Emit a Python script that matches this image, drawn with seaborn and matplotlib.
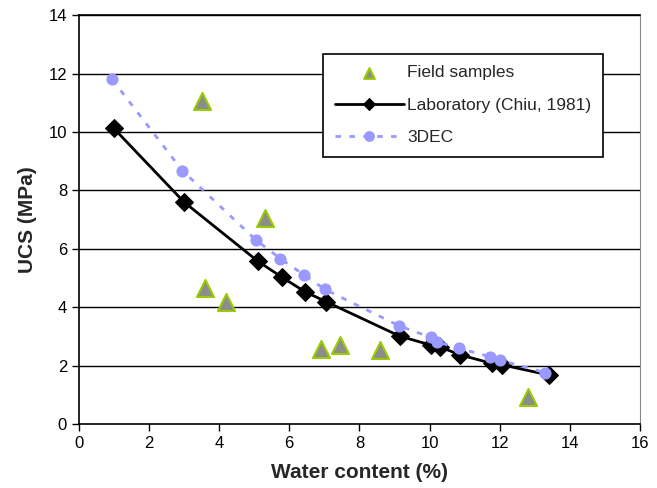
import numpy as np
import pandas as pd
import seaborn as sns
import matplotlib.pyplot as plt

# field samples
field_w = [3.5, 5.3, 3.6, 4.2, 6.9, 7.45, 8.6, 12.8]
field_ucs = [11.05, 7.05, 4.65, 4.18, 2.58, 2.7, 2.52, 0.93]

# laboratory (Chiu, 1981)
lab_w = [1.0, 3.0, 5.1, 5.8, 6.45, 7.05, 9.15, 10.05, 10.3, 10.87, 11.77, 12.06, 13.4]
lab_ucs = [10.12, 7.6, 5.58, 5.02, 4.53, 4.19, 3.01, 2.7, 2.64, 2.37, 2.08, 2.03, 1.68]

# 3DEC
dec_w = [0.95, 2.95, 5.05, 5.75, 6.43, 7.02, 9.14, 10.03, 10.2, 10.85, 11.72, 12.0, 13.3]
dec_ucs = [11.8, 8.68, 6.3, 5.66, 5.1, 4.61, 3.36, 2.97, 2.82, 2.59, 2.31, 2.19, 1.76]

sns.set_style("white")
plt.rcParams['font.family'] = ['Liberation Sans', 'DejaVu Sans']

fig = plt.figure(figsize=(6.57, 4.88), dpi=100)
ax = fig.add_axes([0.120, 0.131, 0.854, 0.838])

for yv in range(2, 15, 2):
    ax.axhline(yv, color='black', lw=1.0, zorder=0)

sns.scatterplot(x=field_w, y=field_ucs, marker='^', s=150, color='#8c8c8c',
                edgecolor='#99cc00', linewidth=1.5, label='Field samples', ax=ax, zorder=3)
sns.lineplot(x=lab_w, y=lab_ucs, sort=False, color='black', lw=2, marker='D',
             markersize=9, markeredgecolor='black', label='Laboratory (Chiu, 1981)', ax=ax, zorder=2)
sns.lineplot(x=dec_w, y=dec_ucs, sort=False, color='#9999ff', lw=2, linestyle=(0, (2, 3)),
             marker='o', markersize=8, markeredgecolor='#9999ff', label='3DEC', ax=ax, zorder=4)

ax.set_xlim(0, 16)
ax.set_ylim(0, 14)
ax.set_xticks(range(0, 17, 2))
ax.set_yticks(range(0, 15, 2))
ax.tick_params(axis='both', direction='out', length=5, width=1, labelsize=12, colors='black',
               bottom=True, left=True)
for s in ['left', 'bottom', 'top']:
    ax.spines[s].set_color('black')
    ax.spines[s].set_linewidth(1.2)
ax.spines['right'].set_color('#888888')

ax.set_xlabel('Water content (%)', fontsize=15, fontweight='bold', labelpad=9)
ax.set_ylabel('UCS (MPa)', fontsize=15, fontweight='bold', labelpad=8)

leg = ax.legend(loc='upper right', bbox_to_anchor=(0.934, 0.905), borderaxespad=0,
                frameon=True, fancybox=False, fontsize=12.5, borderpad=0.65, labelspacing=1.0,
                handlelength=4, handletextpad=0.2)
leg.get_frame().set_edgecolor('black')
leg.get_frame().set_linewidth(1.2)
leg.get_frame().set_alpha(1)
hs = leg.legend_handles
hs[0].set_sizes([60])
hs[1].set_markersize(6)
hs[2].set_markersize(7)

plt.savefig('out.png', dpi=100)
